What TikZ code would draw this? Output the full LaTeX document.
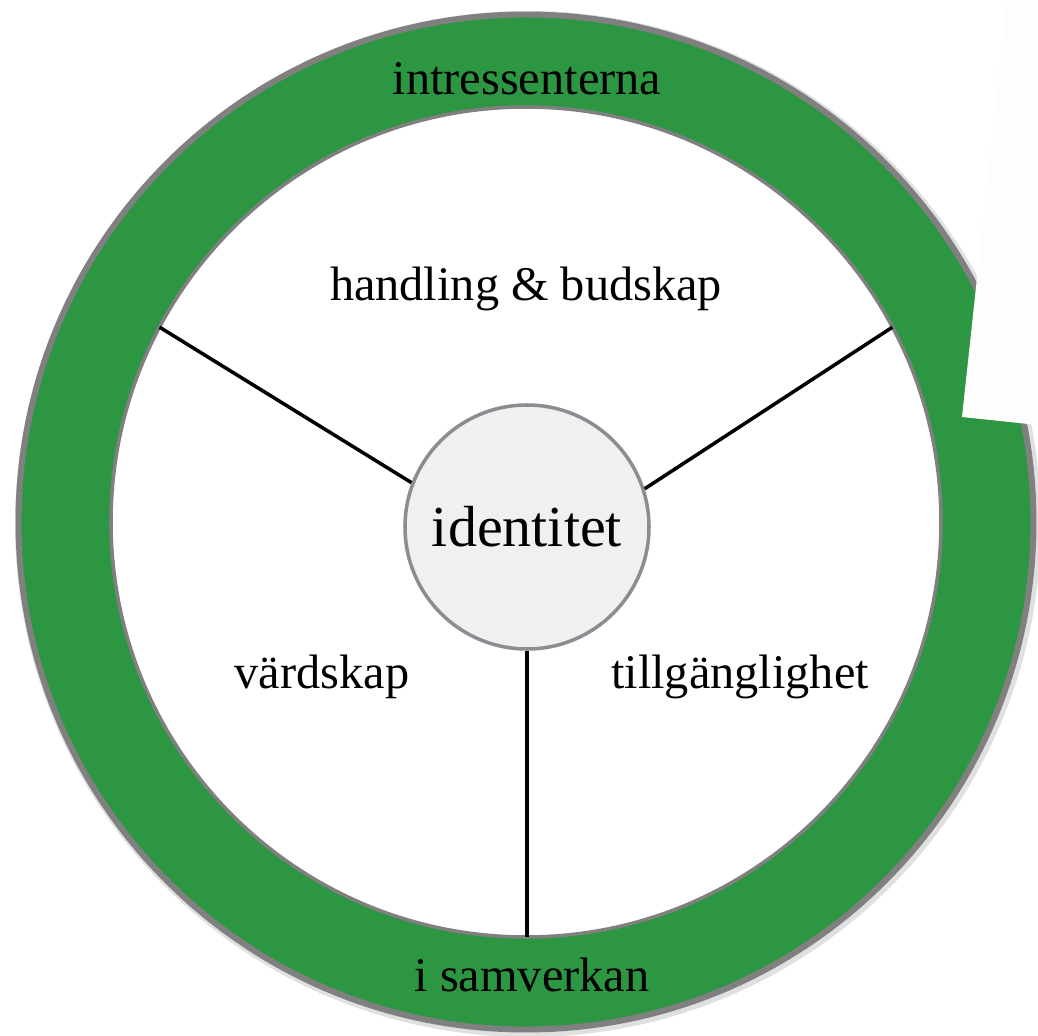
\documentclass[tikz,border=0pt]{standalone}
\usepackage{fontspec}
\setmainfont{Liberation Serif}
\definecolor{ringgreen}{RGB}{44, 150, 66}
\definecolor{rimgray}{RGB}{128, 128, 128}
\definecolor{hubfill}{RGB}{240, 240, 240}
\definecolor{hubgray}{RGB}{140, 140, 146}
\definecolor{paperwhite}{RGB}{253, 253, 253}
\usepackage{tikz}
\usetikzlibrary{calc}

\begin{document}
\begin{tikzpicture}[
  lbl/.style={font=\fontsize{27.5}{33}\selectfont, inner sep=0pt},
  spoke/.style={line width=2pt, black}
]
  \useasboundingbox (-10.52,-10.26) rectangle (10.24,10.44);
  \fill[white] (-10.52,-10.26) rectangle (10.24,10.44);

  % Outer ring with soft shadow
  \fill[black, opacity=0.12] (0.04,-0.04) circle (10.26);
  \filldraw[fill=ringgreen, draw=rimgray, line width=3.4pt] (0,0) circle (10.15);
  \filldraw[fill=white, draw=rimgray, line width=2pt] (0,0) circle (8.3);

  % Ends of the spokes on the rim
  \coordinate (rimleft) at (152:8.3);
  \coordinate (rimright) at (28:8.3);
  \coordinate (rimbottom) at (0.02,-8.3);

  % Centre
  \node[circle, draw=hubgray, fill=hubfill, line width=2pt, minimum size=4.88cm, inner sep=0pt, font=\fontsize{33}{40}\selectfont] (identitet) at (0.02,-0.1) {identitet};

  % Spokes
  \draw[spoke] (identitet.159) -- (rimleft);
  \draw[spoke] (identitet.18) -- (rimright);
  \draw[spoke] (identitet.south) -- (rimbottom);

  % Labels
  \node[lbl] (intressenterna) at (0.02, 8.86) {intressenterna};
  \node[lbl] (handling) at (0, 4.66) {handling \& budskap};
  \node[lbl] (vardskap) at (-4.08, -3.1) {värdskap};
  \node[lbl] (tillganglighet) at (4.28, -3.1) {tillgänglighet};
  \node[lbl] (samverkan) at (0.12, -9.06) {i samverkan};

  % Sheet over the top right
  \fill[paperwhite] (9.62,10.44) -- (8.72,2.1) -- (10.24,1.94) -- (10.24,10.44) -- cycle;
\end{tikzpicture}
\end{document}
